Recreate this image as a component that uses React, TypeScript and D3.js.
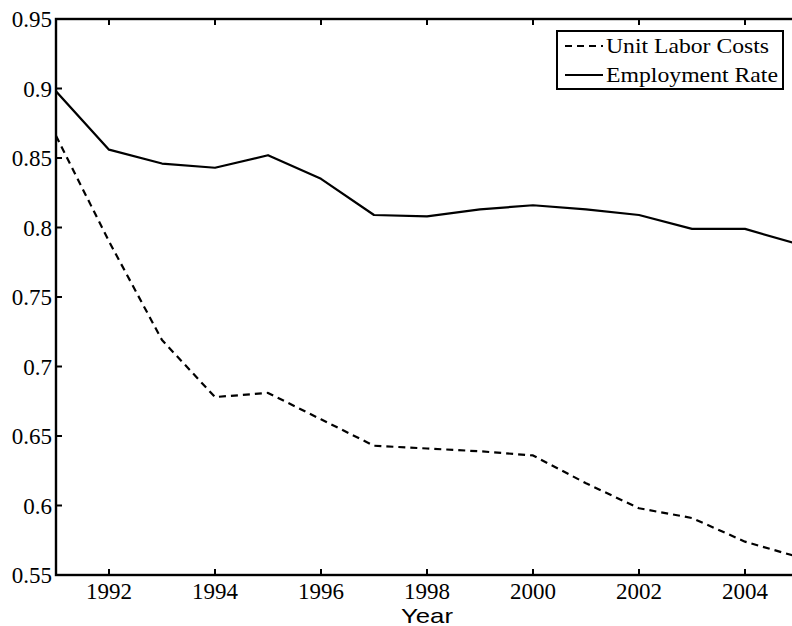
import React from 'react'
import * as d3 from 'd3'

const years = [1991, 1992, 1993, 1994, 1995, 1996, 1997, 1998, 1999, 2000, 2001, 2002, 2003, 2004, 2005]
const unitLaborCosts = [0.866, 0.79, 0.719, 0.678, 0.681, 0.662, 0.643, 0.641, 0.639, 0.636, 0.616, 0.598, 0.591, 0.574, 0.563]
const employmentRate = [0.898, 0.856, 0.846, 0.843, 0.852, 0.835, 0.809, 0.808, 0.813, 0.816, 0.813, 0.809, 0.799, 0.799, 0.788]
const xTicks = [1992, 1994, 1996, 1998, 2000, 2002, 2004]
const yTicks = [0.55, 0.6, 0.65, 0.7, 0.75, 0.8, 0.85, 0.9, 0.95]
const yTickLabels = ['0.55', '0.6', '0.65', '0.7', '0.75', '0.8', '0.85', '0.9', '0.95']

const W = 792
const H = 626
const left = 56
const right = 798
const top = 19
const bottom = 575
const serif = '"Liberation Serif", "Times New Roman", serif'
const sans = '"Liberation Sans", Arial, sans-serif'

export default function App() {
  const x = d3.scaleLinear().domain([1991, 2005]).range([left, right])
  const y = d3.scaleLinear().domain([0.55, 0.95]).range([bottom, top])
  const line = d3
    .line<number>()
    .x((d, i) => x(years[i]))
    .y((d) => y(d))

  const tickLen = 6

  return (
    <div style={{position: 'absolute', left: 0, top: 0}}>
      <svg width={W} height={H} style={{display: 'block', background: '#fff'}}>
        <defs>
          <clipPath id="plot">
            <rect x={left} y={top} width={right - left} height={bottom - top} />
          </clipPath>
        </defs>
        <g clipPath="url(#plot)" fill="none" stroke="#000" strokeWidth={2.2} strokeLinejoin="round">
          <path d={line(unitLaborCosts) || ''} strokeDasharray="7,5" />
          <path d={line(employmentRate) || ''} />
        </g>

        {/* axes box */}
        <rect x={left} y={top} width={right - left} height={bottom - top} fill="none" stroke="#000" strokeWidth={2.4} />

        {xTicks.map((t) => (
          <g key={t}>
            <line x1={x(t)} x2={x(t)} y1={bottom} y2={bottom - tickLen} stroke="#000" strokeWidth={2} />
            <line x1={x(t)} x2={x(t)} y1={top} y2={top + tickLen} stroke="#000" strokeWidth={2} />
            <text x={x(t)} y={599} textAnchor="middle" fontFamily={serif} fontSize={23}>
              {t}
            </text>
          </g>
        ))}
        {yTicks.map((t, i) => (
          <g key={t}>
            <line x1={left} x2={left + tickLen} y1={y(t)} y2={y(t)} stroke="#000" strokeWidth={2} />
            <line x1={right} x2={right - tickLen} y1={y(t)} y2={y(t)} stroke="#000" strokeWidth={2} />
            <text x={52} y={y(t) + 8} textAnchor="end" fontFamily={serif} fontSize={23}>
              {yTickLabels[i]}
            </text>
          </g>
        ))}

        <text
          x={(left + right) / 2}
          y={623}
          textAnchor="middle"
          fontFamily={sans}
          fontSize={21}
          textLength={52}
          lengthAdjust="spacingAndGlyphs"
        >
          Year
        </text>

        {/* legend */}
        <rect x={557} y={31} width={226} height={58} fill="#fff" stroke="#000" strokeWidth={2} />
        <line x1={565} x2={603} y1={46} y2={46} stroke="#000" strokeWidth={2.2} strokeDasharray="7,5" />
        <text x={606} y={53} fontFamily={serif} fontSize={22} textLength={163} lengthAdjust="spacingAndGlyphs">
          Unit Labor Costs
        </text>
        <line x1={565} x2={603} y1={75} y2={75} stroke="#000" strokeWidth={2.2} />
        <text x={606} y={82} fontFamily={serif} fontSize={22} textLength={172} lengthAdjust="spacingAndGlyphs">
          Employment Rate
        </text>
      </svg>
    </div>
  )
}
